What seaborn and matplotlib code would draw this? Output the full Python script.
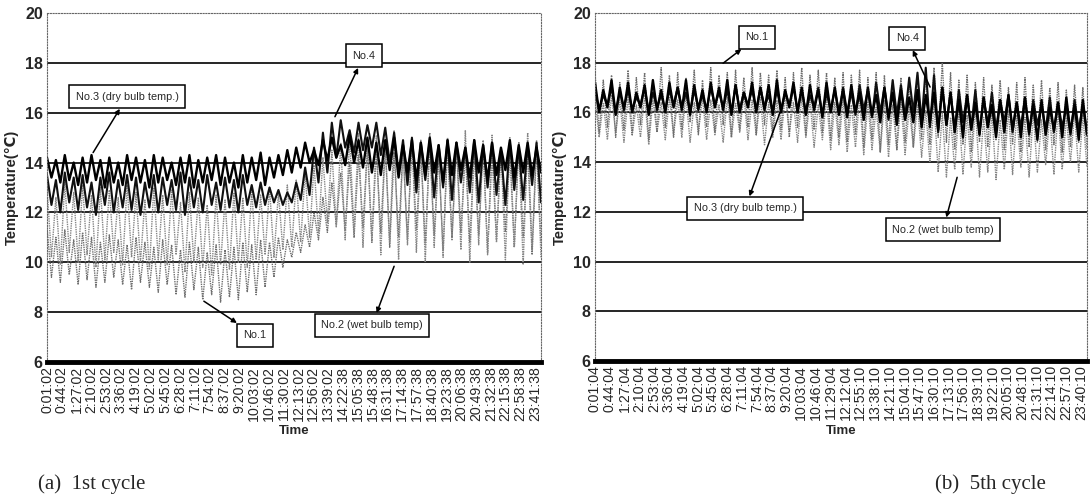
"""
Temperature records of the 1st and 5th cycle (two panels).
"""

import numpy as np
import pandas as pd
import matplotlib
matplotlib.use("Agg")
import matplotlib.pyplot as plt
import seaborn as sns

# ---- data -------------------------------------------------------------
# tick labels (one every 43 samples)
time_labels_1st = [
    "0:01:02", "0:44:02", "1:27:02", "2:10:02", "2:53:02", "3:36:02",
    "4:19:02", "5:02:02", "5:45:02", "6:28:02", "7:11:02", "7:54:02",
    "8:37:02", "9:20:02", "10:03:02", "10:46:02", "11:30:02", "12:13:02",
    "12:56:02", "13:39:02", "14:22:38", "15:05:38", "15:48:38", "16:31:38",
    "17:14:38", "17:57:38", "18:40:38", "19:23:38", "20:06:38", "20:49:38",
    "21:32:38", "22:15:38", "22:58:38", "23:41:38",
]
time_labels_5th = [
    "0:01:04", "0:44:04", "1:27:04", "2:10:04", "2:53:04", "3:36:04",
    "4:19:04", "5:02:04", "5:45:04", "6:28:04", "7:11:04", "7:54:04",
    "8:37:04", "9:20:04", "10:03:04", "10:46:04", "11:29:04", "12:12:04",
    "12:55:10", "13:38:10", "14:21:10", "15:04:10", "15:47:10", "16:30:10",
    "17:13:10", "17:56:10", "18:39:10", "19:22:10", "20:05:10", "20:48:10",
    "21:31:10", "22:14:10", "22:57:10", "23:40:10",
]
n_samples = 1436  # one sample per minute, approx.

# 1st cycle: peak / trough of each oscillation
no1_hi_1st = [11.4, 11.0, 11.3, 10.9, 11.2, 11.0, 10.8, 11.1, 10.9, 10.7, 11.0, 10.8, 10.6, 10.9,
              10.7, 10.5, 10.8, 10.6, 10.4, 10.7, 10.5, 10.6, 10.8, 10.7, 10.9, 10.8, 11.0, 10.9,
              11.2, 11.5, 12.0, 12.6, 13.2, 13.6, 14.0, 14.3, 14.6, 14.5, 14.8, 14.4, 14.6, 14.9,
              14.5, 14.7, 14.3, 14.6, 14.8, 14.4, 14.5, 14.7, 14.3, 14.6, 14.4, 14.8, 14.5, 14.6]
no1_lo_1st = [9.4, 9.2, 9.5, 9.1, 9.3, 9.0, 9.2, 9.4, 9.1, 8.9, 9.2, 9.0, 8.8, 9.1,
              8.7, 8.6, 8.9, 8.5, 8.7, 8.4, 8.6, 8.5, 8.8, 8.7, 9.0, 9.4, 9.8, 10.2,
              10.4, 10.6, 10.9, 11.2, 11.5, 11.3, 11.0, 11.4, 10.8, 11.2, 10.6, 11.0, 10.9, 11.3,
              10.7, 11.1, 10.5, 11.0, 11.2, 10.8, 11.1, 10.4, 10.9, 11.2, 10.6, 11.0, 10.3, 10.8]
no2_hi_1st = [13.0, 12.6, 13.2, 12.8, 13.1, 12.7, 13.0, 12.9, 12.6, 13.1, 12.8, 12.5, 13.0, 12.7,
              12.9, 12.4, 12.8, 12.6, 12.3, 12.7, 12.5, 12.8, 12.6, 12.9, 12.7, 13.0, 12.8, 13.1,
              13.3, 13.6, 13.9, 14.2, 14.5, 14.8, 15.0, 15.2, 14.9, 15.1, 14.8, 15.3, 14.7, 15.0,
              14.9, 15.2, 14.6, 15.0, 14.8, 15.3, 14.7, 14.9, 15.1, 14.6, 15.0, 14.8, 15.2, 14.9]
no2_lo_1st = [10.2, 9.9, 10.4, 10.0, 10.3, 9.8, 10.1, 10.4, 9.9, 10.2, 10.0, 9.7, 10.1, 9.9,
              10.3, 9.6, 10.0, 9.8, 9.5, 9.9, 9.7, 10.0, 9.8, 10.1, 10.3, 10.2, 10.5, 10.6,
              10.8, 11.0, 11.2, 11.6, 11.4, 10.9, 11.2, 10.6, 10.9, 10.3, 10.8, 10.1, 10.7, 10.4,
              10.0, 10.6, 10.2, 10.9, 10.5, 10.0, 10.7, 10.3, 10.8, 10.1, 10.6, 9.9, 10.5, 10.2]
no3_hi_1st = [14.2, 14.1, 14.3, 14.0, 14.2, 14.3, 14.1, 14.2, 14.0, 14.3, 14.2, 14.1, 14.3, 14.2,
              14.0, 14.2, 14.3, 14.1, 14.2, 14.3, 14.2, 14.0, 14.3, 14.2, 14.4, 14.2, 14.3, 14.5,
              14.6, 14.8, 14.5, 14.9, 15.0, 14.7, 15.1, 14.9, 15.0, 14.8, 14.9, 15.0, 14.7, 14.9,
              14.8, 15.0, 14.7, 14.9, 14.8, 14.6, 14.9, 14.7, 14.8, 14.6, 14.9, 14.7, 14.8, 14.6]
no3_lo_1st = [13.4, 13.2, 13.3, 13.1, 13.2, 13.3, 13.0, 13.2, 13.1, 13.3, 13.2, 13.0, 13.2, 13.3,
              13.1, 13.2, 13.0, 13.2, 13.3, 13.1, 13.2, 13.0, 13.2, 13.3, 13.1, 13.4, 13.5, 13.6,
              13.8, 14.0, 13.9, 14.1, 14.2, 13.9, 14.0, 13.8, 13.6, 13.5, 13.7, 13.4, 13.6, 13.3,
              13.5, 13.6, 13.2, 13.5, 13.7, 13.4, 13.6, 13.3, 13.5, 13.7, 13.4, 13.6, 13.5, 13.6]
no4_hi_1st = [13.5, 13.3, 13.6, 13.4, 13.5, 13.2, 13.4, 13.6, 13.3, 13.5, 13.4, 13.2, 13.5, 13.4,
              13.3, 13.6, 13.4, 13.3, 13.5, 13.2, 13.4, 13.3, 13.5, 13.1, 13.2, 13.0, 12.9, 12.8,
              13.2, 13.8, 14.6, 15.2, 15.6, 15.7, 15.3, 15.6, 15.5, 15.6, 15.4, 15.2, 14.9, 15.0,
              14.8, 14.9, 14.7, 14.9, 14.8, 14.6, 14.9, 14.7, 14.8, 14.5, 14.8, 14.6, 14.7, 14.8]
no4_lo_1st = [12.3, 12.0, 12.4, 12.1, 12.2, 11.9, 12.3, 12.0, 12.2, 12.1, 11.9, 12.2, 12.0, 12.3,
              12.1, 11.9, 12.2, 12.0, 12.3, 12.1, 12.2, 12.0, 12.3, 12.2, 12.3, 12.4, 12.3, 12.4,
              12.5, 12.7, 13.2, 13.6, 14.2, 14.6, 14.4, 14.5, 14.6, 14.3, 14.0, 13.6, 13.1, 12.8,
              13.3, 12.6, 13.0, 12.5, 13.2, 12.8, 12.4, 13.0, 12.7, 12.3, 12.9, 12.5, 13.1, 12.4]

# 5th cycle
no1_hi_5th = [17.6, 17.3, 17.5, 17.2, 17.7, 17.4, 17.6, 17.3, 17.8, 17.5, 17.6, 17.4, 17.7, 17.3, 17.8,
              17.5, 17.6, 17.7, 17.4, 17.8, 17.6, 17.5, 17.7, 17.4, 17.6, 17.8, 17.5, 17.7, 17.6, 17.4,
              17.6, 17.5, 17.7, 17.4, 17.6, 17.5, 17.3, 17.4, 17.2, 17.5, 17.6, 17.8, 18.0, 17.6, 17.3,
              17.5, 17.2, 17.4, 17.1, 17.3, 17.0, 17.2, 17.4, 17.1, 17.3, 17.0, 17.2, 16.9, 17.1, 17.0]
no1_lo_5th = [15.2, 15.4, 15.0, 15.3, 15.1, 15.5, 14.9, 15.2, 15.4, 15.0, 15.3, 15.6, 15.1, 15.4, 15.2,
              15.5, 15.0, 15.3, 15.4, 15.1, 15.5, 15.2, 15.3, 15.0, 15.4, 15.1, 15.3, 15.2, 14.9, 15.0,
              14.8, 15.1, 14.6, 14.9, 14.4, 14.7, 14.5, 14.8, 14.6, 14.9, 14.7, 15.0, 14.8, 14.5, 14.7,
              14.4, 14.8, 14.6, 14.9, 14.5, 14.7, 14.4, 14.6, 14.8, 14.5, 14.7, 14.4, 14.6, 14.8, 14.5]
no2_hi_5th = [16.6, 16.4, 16.7, 16.5, 16.6, 16.3, 16.7, 16.5, 16.4, 16.6, 16.5, 16.7, 16.4, 16.6, 16.5,
              16.3, 16.6, 16.4, 16.7, 16.5, 16.6, 16.4, 16.5, 16.7, 16.4, 16.6, 16.5, 16.3, 16.6, 16.4,
              16.5, 16.3, 16.6, 16.4, 16.2, 16.5, 16.3, 16.4, 16.2, 16.3, 16.1, 16.4, 16.0, 15.8, 16.1,
              15.9, 16.2, 15.8, 16.0, 15.7, 16.1, 15.9, 15.8, 16.0, 15.7, 15.9, 16.1, 15.8, 16.0, 15.9]
no2_lo_5th = [15.0, 14.9, 15.2, 14.8, 15.1, 15.0, 14.7, 15.2, 14.9, 15.1, 15.0, 14.8, 15.2, 14.9, 15.1,
              14.8, 15.0, 15.2, 14.9, 15.1, 14.7, 15.0, 14.9, 15.2, 14.8, 15.0, 14.6, 14.9, 14.5, 14.7,
              14.4, 14.6, 14.3, 14.5, 14.4, 14.2, 14.5, 14.3, 14.6, 14.2, 14.0, 13.6, 13.4, 13.7, 13.5,
              13.8, 13.4, 13.6, 13.3, 13.7, 13.5, 13.8, 13.4, 13.6, 13.9, 13.5, 13.7, 14.0, 13.6, 13.8]
no3_hi_5th = [17.2, 16.9, 17.3, 17.0, 17.2, 16.8, 17.1, 17.3, 16.9, 17.2, 17.0, 17.3, 17.1, 16.9, 17.2,
              17.0, 17.3, 17.1, 16.8, 17.2, 17.0, 17.1, 17.3, 16.9, 17.2, 17.0, 17.1, 16.9, 17.2, 17.0,
              16.9, 17.1, 16.8, 17.0, 16.7, 17.0, 16.8, 16.9, 16.6, 16.9, 16.7, 16.8, 17.0, 16.8, 16.5,
              16.7, 16.4, 16.6, 16.3, 16.5, 16.7, 16.4, 16.6, 16.3, 16.5, 16.2, 16.4, 16.6, 16.3, 16.5]
no3_lo_5th = [16.0, 16.2, 15.9, 16.1, 16.0, 16.2, 15.9, 16.1, 16.0, 16.2, 16.1, 15.9, 16.1, 16.0, 16.2,
              16.1, 15.9, 16.0, 16.2, 16.0, 16.1, 15.9, 16.0, 16.2, 16.0, 15.9, 16.1, 15.8, 16.0, 15.9,
              15.8, 16.0, 15.7, 15.9, 15.6, 15.8, 15.5, 15.7, 15.6, 15.4, 15.6, 15.3, 15.5, 15.2, 15.0,
              15.3, 15.1, 15.4, 15.0, 15.2, 15.3, 15.0, 15.2, 14.9, 15.1, 15.3, 15.0, 15.2, 14.9, 15.1]
no4_hi_5th = [16.9, 16.7, 17.0, 16.8, 16.9, 16.6, 17.0, 16.8, 16.7, 16.9, 17.0, 16.8, 16.9, 16.7, 17.0,
              16.8, 16.9, 17.1, 16.8, 16.9, 17.0, 16.7, 16.9, 16.8, 17.0, 16.9, 16.7, 17.0, 16.8, 16.9,
              17.0, 16.8, 17.1, 16.9, 17.2, 17.0, 17.3, 17.1, 17.4, 17.6, 17.8, 17.5, 17.0, 16.8, 16.9,
              16.7, 16.9, 16.6, 16.8, 16.5, 16.7, 16.4, 16.6, 16.5, 16.3, 16.6, 16.4, 16.2, 16.5, 16.3]
no4_lo_5th = [16.1, 16.3, 16.0, 16.2, 16.1, 16.3, 16.0, 16.2, 16.1, 16.3, 16.2, 16.0, 16.2, 16.1, 16.3,
              16.2, 16.0, 16.1, 16.3, 16.1, 16.2, 16.0, 16.1, 16.3, 16.1, 16.0, 16.2, 15.9, 16.1, 16.0,
              16.0, 15.9, 16.1, 15.8, 16.0, 15.7, 15.9, 15.8, 16.0, 15.6, 15.4, 15.2, 15.5, 15.3, 15.6,
              15.4, 15.2, 15.5, 15.3, 15.6, 15.2, 15.4, 15.1, 15.5, 15.3, 15.2, 15.4, 15.1, 15.3, 15.2]

# (name, highs, lows) drawn in this order: gray probes first, black on top
series_1st = [
    ("No.1", no1_hi_1st, no1_lo_1st),
    ("No.2", no2_hi_1st, no2_lo_1st),
    ("No.4", no4_hi_1st, no4_lo_1st),
    ("No.3", no3_hi_1st, no3_lo_1st),
]
series_5th = [
    ("No.2", no2_hi_5th, no2_lo_5th),
    ("No.1", no1_hi_5th, no1_lo_5th),
    ("No.4", no4_hi_5th, no4_lo_5th),
    ("No.3", no3_hi_5th, no3_lo_5th),
]
line_style = {
    "No.1": dict(color="#6e6e6e", lw=1.0, ls=(0, (1, 0.7))),
    "No.2": dict(color="#858585", lw=1.0, ls=(0, (1, 0.7))),
    "No.3": dict(color="black", lw=1.7, ls="-"),
    "No.4": dict(color="#111111", lw=1.5, ls="-"),
}

# annotation boxes: (text, data point, box centre) in data units
notes_1st = [
    ("No.3 (dry bulb temp.)", (134, 14.4), (233, 16.64)),
    ("No.4", (837, 15.84), (921, 18.28)),
    ("No.1", (456, 8.44), (605, 7.08)),
    ("No.2 (wet bulb temp)", (1009, 9.84), (945, 7.48)),
]
notes_5th = [
    ("No.1", (374, 17.98), (473, 19.03)),
    ("No.3 (dry bulb temp.)", (540, 16.0), (438, 12.14)),
    ("No.4", (978, 17.02), (911, 18.99)),
    ("No.2 (wet bulb temp)", (1057, 13.39), (1016, 11.29)),
]

sns.set_style("white")
plt.rcParams["font.family"] = ["Liberation Sans", "DejaVu Sans"]


def to_frame(series):
    rows = []
    for name, hi, lo in series:
        vals = np.column_stack([hi, lo]).ravel()
        x = np.linspace(0, n_samples, len(vals))
        rows.append(pd.DataFrame({"t": x, "temp": vals, "probe": name}))
    return pd.concat(rows, ignore_index=True)


def draw_panel(ax, series, labels, notes):
    df = to_frame(series)
    for name, _, _ in series:
        st = line_style[name]
        sns.lineplot(
            data=df[df["probe"] == name], x="t", y="temp", ax=ax,
            color=st["color"], linewidth=st["lw"], linestyle=st["ls"],
            estimator=None, sort=False,
        )

    for yv in range(8, 20, 2):
        ax.axhline(yv, color="black", lw=1.2, zorder=0.5)

    ax.set_xlim(0, n_samples)
    ax.set_ylim(6, 20)
    ax.set_yticks(range(6, 21, 2))
    ax.set_yticklabels([str(v) for v in range(6, 21, 2)],
                       fontsize=11.5, fontweight="bold")
    ax.set_xticks(np.arange(len(labels)) * 43)
    ax.set_xticklabels(labels, rotation=90, fontsize=10.2)
    ax.tick_params(axis="both", length=0, pad=3)
    ax.set_xlabel("Time", fontsize=9.5, fontweight="bold", labelpad=3)
    ax.set_ylabel("Temperature(℃)", fontsize=10.5, fontweight="bold",
                  family=["Liberation Sans", "DejaVu Sans"], labelpad=4)

    for side in ("top", "right", "left"):
        ax.spines[side].set_visible(True)
        ax.spines[side].set_color("#666666")
        ax.spines[side].set_linestyle((0, (1, 1.5)))
        ax.spines[side].set_linewidth(0.8)
    ax.spines["bottom"].set_color("black")
    ax.spines["bottom"].set_linewidth(3.5)

    for text, pt, box in notes:
        ax.annotate(
            text, xy=pt, xytext=box, ha="center", va="center",
            fontsize=7.8, family=["Liberation Sans", "DejaVu Sans"],
            bbox=dict(boxstyle="square,pad=0.6", fc="white", ec="black", lw=1.1),
            arrowprops=dict(arrowstyle="<|-", color="black", lw=1.1,
                            mutation_scale=7, shrinkA=0, shrinkB=0),
            zorder=5,
        )


fig = plt.figure(figsize=(10.9, 4.99), dpi=100)
ax1 = fig.add_axes([47 / 1090, 1 - 362 / 499, 494 / 1090, 349 / 499])
ax2 = fig.add_axes([595 / 1090, 1 - 361 / 499, 492 / 1090, 348 / 499])

draw_panel(ax1, series_1st, time_labels_1st, notes_1st)
draw_panel(ax2, series_5th, time_labels_5th, notes_5th)

fig.text(92 / 1090, 1 - 484 / 499, "(a)  1st cycle", ha="center", va="center",
         fontsize=15, family=["Liberation Serif", "DejaVu Serif"])
fig.text(990 / 1090, 1 - 484 / 499, "(b)  5th cycle", ha="center", va="center",
         fontsize=15, family=["Liberation Serif", "DejaVu Serif"])

fig.savefig("out.png", dpi=100)
